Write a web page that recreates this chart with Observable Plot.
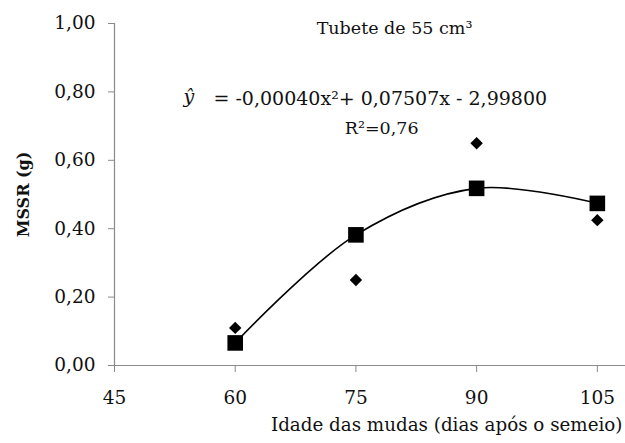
<!DOCTYPE html>
<html>
<head>
<meta charset="utf-8">
<script src="https://cdn.jsdelivr.net/npm/d3@7"></script>
<script src="https://cdn.jsdelivr.net/npm/@observablehq/plot@0.6"></script>
<style>
  html, body { margin: 0; padding: 0; background: #fff; }
  #chart svg { display: block; }
  #chart svg, #chart svg text { font-family: "DejaVu Serif", serif !important; }
</style>
</head>
<body>
<div id="chart"></div>
<script>
// Data
const ages = [60, 75, 90, 105];                    // Idade das mudas (dias após o semeio)
const fitted = [0.066, 0.382, 0.518, 0.474];       // squares: fitted values (on the curve)
const observed = [0.11, 0.25, 0.65, 0.425];        // diamonds: observed values
const xTicks = [45, 60, 75, 90, 105];
const yTicks = [0, 0.2, 0.4, 0.6, 0.8, 1.0];
const titleText = "Tubete de 55 cm³";
const eqHat = "ŷ";
const eqText = "= -0,00040x²+ 0,07507x - 2,99800";
const r2Text = "R²=0,76";
const xLabel = "Idade das mudas (dias após o semeio)";
const yLabel = "MSSR (g)";

const fitRows = ages.map((a, i) => ({x: a, y: fitted[i]}));
const obsRows = ages.map((a, i) => ({x: a, y: observed[i]}));
const fmt = d => d.toFixed(2).replace(".", ",");

const axisColor = "#8a8a8a";
const serif = "DejaVu Serif";

const chart = Plot.plot({
  width: 625,
  height: 443,
  marginLeft: 114,
  marginRight: 0,
  marginTop: 23,
  marginBottom: 78,
  style: {fontFamily: serif, fontSize: "18px", color: "#111", background: "#fff"},
  x: {domain: [45, 108.5]},
  y: {domain: [0, 1]},
  marks: [
    Plot.ruleY([0], {stroke: axisColor, strokeWidth: 1.2}),
    Plot.ruleX([45], {stroke: axisColor, strokeWidth: 1.2}),
    Plot.axisY({ticks: yTicks, tickFormat: fmt, tickSize: 6, tickPadding: 13, stroke: axisColor, label: null, fill: "#111", fontFamily: serif, fontSize: 18.5}),
    Plot.axisX({ticks: xTicks, tickSize: 7, tickPadding: 18, stroke: axisColor, label: null, fill: "#111", fontFamily: serif, fontSize: 18.5}),
    Plot.line(fitRows, {x: "x", y: "y", curve: "catmull-rom", stroke: "#000", strokeWidth: 1.6}),
    Plot.dot(obsRows, {x: "x", y: "y", symbol: "diamond2", r: 5.6, fill: "#000", stroke: "none"}),
    Plot.dot(fitRows, {x: "x", y: "y", symbol: "square", r: 8.8, fill: "#000", stroke: "none"}),
    Plot.text([titleText], {x: 79.8, y: 0.987, text: d => d, textAnchor: "middle", lineAnchor: "middle", fontFamily: serif, fontSize: 17.5, fill: "#111"}),
    Plot.text([eqHat], {x: 54.25, y: 0.785, text: d => d, textAnchor: "middle", lineAnchor: "middle", fontFamily: serif, fontSize: 19, fontStyle: "italic", fill: "#111"}),
    Plot.text([eqText], {x: 57.3, y: 0.779, text: d => d, textAnchor: "start", lineAnchor: "middle", fontFamily: serif, fontSize: 19, fill: "#111"}),
    Plot.text([r2Text], {x: 78.2, y: 0.694, text: d => d, textAnchor: "middle", lineAnchor: "middle", fontFamily: serif, fontSize: 17.5, fill: "#111"}),
    Plot.text([xLabel], {frameAnchor: "bottom-right", text: d => d, textAnchor: "end", lineAnchor: "middle", dx: -3, dy: 60, fontFamily: serif, fontSize: 18.3, fill: "#111"}),
    Plot.text([yLabel], {frameAnchor: "left", text: d => d, rotate: -90, textAnchor: "middle", lineAnchor: "middle", dx: -91, fontFamily: serif, fontSize: 16, fontWeight: "bold", fill: "#111"})
  ]
});
document.getElementById("chart").appendChild(chart);
</script>
</body>
</html>
